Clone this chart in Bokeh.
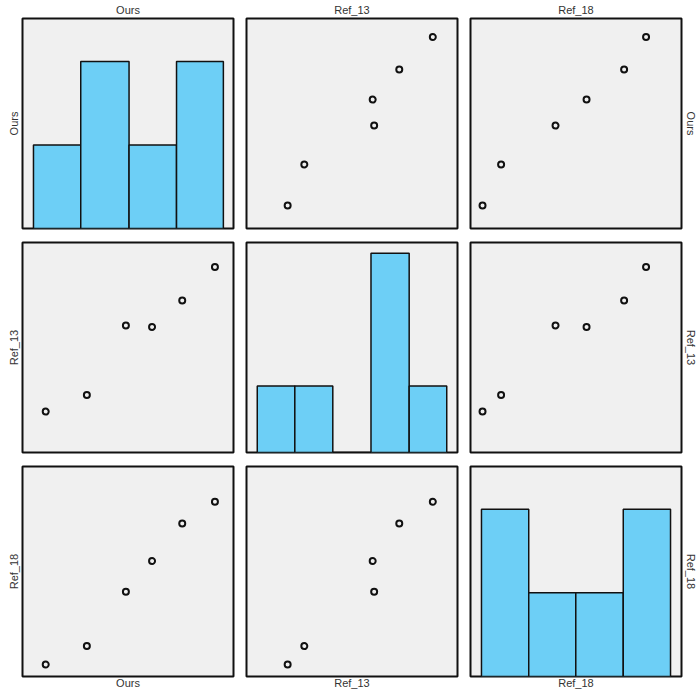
from bokeh.plotting import figure
from bokeh.layouts import gridplot
from bokeh.models import LinearAxis, FixedTicker, Range1d
from bokeh.embed import file_html
from bokeh.resources import INLINE

# ---- data (normalised scores) ----
names = ["Ours", "Ref_13", "Ref_18"]
ours = [0.110, 0.305, 0.490, 0.614, 0.757, 0.912]
ref_13 = [0.195, 0.274, 0.605, 0.598, 0.724, 0.883]
ref_18 = [0.057, 0.145, 0.403, 0.550, 0.728, 0.832]
series = {"Ours": ours, "Ref_13": ref_13, "Ref_18": ref_18}

# histogram bins (edges) and counts
hist_edges = {
    "Ours": [0.052, 0.276, 0.505, 0.730, 0.952],
    "Ref_13": [0.051, 0.229, 0.409, 0.590, 0.771, 0.949],
    "Ref_18": [0.052, 0.276, 0.499, 0.724, 0.948],
}
hist_counts = {
    "Ours": [1, 2, 1, 2],
    "Ref_13": [1, 1, 0, 3, 1],
    "Ref_18": [2, 1, 1, 2],
}
hist_ymax = {"Ours": 2.515, "Ref_13": 3.16, "Ref_18": 2.51}

FONT = "Liberation Sans"
TXT = "#333333"
BAR = "#6dcff6"
BG = "#f0f0f0"

border_lr = [(22, 6), (7, 6), (7, 15)]
border_tb = [(18, 7), (7, 6), (8, 18)]
standoff = {"above": 3, "below": 0, "left": 3, "right": 3}


def label_axis(p, side, text):
    ax = LinearAxis(ticker=FixedTicker(ticks=[]), axis_label=text)
    ax.axis_line_color = None
    ax.major_tick_line_color = None
    ax.minor_tick_line_color = None
    ax.major_tick_out = 0
    ax.major_tick_in = 0
    ax.major_label_text_font_size = "0px"
    ax.axis_label_standoff = standoff[side]
    ax.axis_label_text_font = FONT
    ax.axis_label_text_font_size = "11px"
    ax.axis_label_text_font_style = "normal"
    ax.axis_label_text_color = TXT
    p.add_layout(ax, side)


rows = []
for i, rname in enumerate(names):
    row = []
    for j, cname in enumerate(names):
        p = figure(
            frame_width=211, frame_height=210,
            output_backend="svg", toolbar_location=None,
            x_axis_location=None, y_axis_location=None,
            min_border_left=border_lr[j][0], min_border_right=border_lr[j][1],
            min_border_top=border_tb[i][0], min_border_bottom=border_tb[i][1],
            x_range=Range1d(0, 1),
            y_range=Range1d(0, hist_ymax[cname]) if i == j else Range1d(0, 1),
        )
        p.grid.visible = False
        p.background_fill_color = BG
        p.border_fill_color = "white"
        p.outline_line_color = "#111111"
        p.outline_line_width = 2
        p.outline_line_alpha = 1.0

        if i == j:
            e = hist_edges[cname]
            c = hist_counts[cname]
            p.quad(left=e[:-1], right=e[1:], bottom=0, top=c,
                   fill_color=BAR, line_color="#111111", line_width=1.5)
        else:
            p.scatter(series[cname], series[rname], size=6,
                      fill_color=None, line_color="#111111", line_width=2)

        if i == 0:
            label_axis(p, "above", cname)
        if i == len(names) - 1:
            label_axis(p, "below", cname)
        if j == 0:
            label_axis(p, "left", rname)
        if j == len(names) - 1:
            label_axis(p, "right", rname)
        row.append(p)
    rows.append(row)

grid = gridplot(rows, toolbar_location=None)

open("out.html", "w").write(file_html(grid, INLINE))
